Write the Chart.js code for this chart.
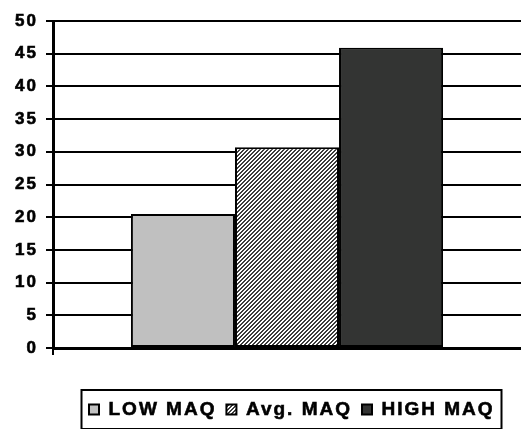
<!DOCTYPE html>
<html>
<head>
<meta charset="utf-8">
<script src="https://cdn.jsdelivr.net/npm/chart.js@4/dist/chart.umd.min.js"></script>
<style>
  html, body { margin: 0; padding: 0; background: #fff; }
  canvas { display: block; }
</style>
</head>
<body>
<canvas id="c" width="521" height="429"></canvas>
<script>
// ---- data ----
const categories = [''];
const seriesNames = ['LOW MAQ', 'Avg. MAQ', 'HIGH MAQ'];
const lowValues = [20.5];
const avgValues = [30.7];
const highValues = [45.9];
const yMin = 0;
const yMax = 50;
const yStep = 5;

// ---- hatch pattern for "Avg." ----
function makeHatch() {
  const c = document.createElement('canvas');
  c.width = 4; c.height = 4;
  const g = c.getContext('2d');
  for (let y = 0; y < 4; y++) {
    for (let x = 0; x < 4; x++) {
      const k = (x + y) % 4;
      g.fillStyle = (k === 0 || k === 1) ? '#3c3c3c' : '#ffffff';
      g.fillRect(x, y, 1, 1);
    }
  }
  return document.getElementById('c').getContext('2d').createPattern(c, 'repeat');
}
const hatch = makeHatch();

const FONT = 'Arial, "Liberation Sans", sans-serif';
const SPACING = '2px';

const spacingPlugin = {
  id: 'spacing',
  beforeUpdate(chart) { chart.ctx.letterSpacing = SPACING; },
  beforeLayout(chart) { chart.ctx.letterSpacing = SPACING; },
  beforeDraw(chart) {
    chart.ctx.letterSpacing = SPACING;
    const lg = chart.legend;
    const pad = lg.options.labels.padding;
    const x = (lg.left + pad + lg.right - lg.lineWidths[0]) / 2;
    const delta = 89 - x;
    lg.left += delta;
    lg.right += delta;
    if (!lg.__wrapped) {
      const orig = lg.draw.bind(lg);
      lg.draw = function (area) {
        const ctx = this.ctx;
        const f = ctx.fillText;
        ctx.fillText = function (t, x, y, m) {
          ctx.save();
          ctx.lineWidth = 0.6;
          ctx.strokeStyle = '#000';
          ctx.strokeText(t, x, y);
          ctx.restore();
          return m === undefined ? f.call(ctx, t, x, y) : f.call(ctx, t, x, y, m);
        };
        try { orig(area); } finally { ctx.fillText = f; }
      };
      lg.__wrapped = true;
    }
  },
  afterDraw(chart) {
    const lg = chart.legend;
    const ctx = chart.ctx;
    const pad = lg.options.labels.padding;
    const x = (lg.left + pad + lg.right - lg.lineWidths[0]) / 2;
    const w = lg.lineWidths[0] - pad;
    ctx.save();
    ctx.strokeStyle = '#000';
    ctx.lineWidth = 2;
    ctx.strokeRect(Math.round(x - 8) + 0.5, Math.round(lg.top) + 0, Math.round(w + 14), Math.round(lg.bottom - lg.top));
    ctx.restore();
  }
};

new Chart(document.getElementById('c'), {
  type: 'bar',
  data: {
    labels: categories,
    datasets: [
      { label: seriesNames[0], data: lowValues, backgroundColor: '#c0c0c0', borderColor: '#000', borderWidth: 2, borderSkipped: false },
      { label: seriesNames[1], data: avgValues, backgroundColor: hatch, borderColor: '#000', borderWidth: 2, borderSkipped: false },
      { label: seriesNames[2], data: highValues, backgroundColor: '#333433', borderColor: '#000', borderWidth: 2, borderSkipped: false }
    ]
  },
  options: {
    responsive: false,
    animation: false,
    devicePixelRatio: 1,
    layout: { padding: { top: 21, left: 0, right: -4, bottom: 0 } },
    datasets: { bar: { categoryPercentage: 0.667, barPercentage: 1.0 } },
    plugins: {
      tooltip: { enabled: false },
      legend: {
        position: 'bottom',
        labels: {
          boxWidth: 10,
          boxHeight: 10,
          padding: 10,
          color: '#000',
          font: { family: FONT, size: 19, weight: 'bold' }
        }
      }
    },
    scales: {
      x: {
        type: 'category',
        offset: true,
        grid: {
          offset: true, drawOnChartArea: false, drawTicks: true, tickLength: 7,
          color: '#000', lineWidth: 2,
          tickColor: (c) => (c.index === 0 ? '#000' : 'rgba(0,0,0,0)')
        },
        border: { color: '#000', width: 3 },
        ticks: { font: { family: FONT, size: 17, weight: 'bold' }, color: '#000' },
        afterFit(scale) { scale.height = 42; }
      },
      y: {
        min: yMin,
        max: yMax,
        ticks: {
          stepSize: yStep,
          padding: 8,
          color: '#000',
          textStrokeColor: '#000',
          textStrokeWidth: 0.6,
          font: { family: FONT, size: 17, weight: 'bold' }
        },
        grid: { color: '#000', lineWidth: 2, tickLength: 7, tickColor: '#000', tickWidth: 2 },
        border: { color: '#000', width: 3 },
        afterFit(scale) { scale.width = 53; }
      }
    }
  },
  plugins: [spacingPlugin]
});
</script>
</body>
</html>
